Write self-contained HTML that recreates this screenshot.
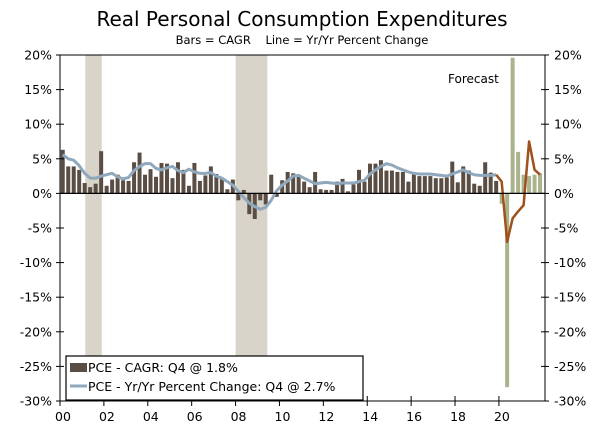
<!DOCTYPE html>
<html><head><meta charset="utf-8"><style>
body{margin:0;background:#fff;}
svg{display:block;font-family:"DejaVu Sans","Liberation Sans",sans-serif;}
</style></head><body>
<svg id="chart" width="600" height="431" viewBox="0 0 600 431">
<text x="302" y="26" text-anchor="middle" font-size="20" fill="#000">Real Personal Consumption Expenditures</text>
<text x="302" y="44" text-anchor="middle" font-size="11.5" fill="#000">Bars = CAGR&#160;&#160;&#160;&#160;Line = Yr/Yr Percent Change</text>
<g id="recessions"></g>
<g id="bars"></g>
<g id="lines"></g>
<g id="axes"></g>
<text x="448" y="83" font-size="12" fill="#000">Forecast</text>
<g>
<rect x="66" y="356" width="297" height="44" fill="#fff" stroke="#000" stroke-width="1.2"/>
<rect x="70" y="363" width="17" height="9" fill="#5a4e44"/>
<text x="88" y="372" font-size="12.5" fill="#000">PCE - CAGR: Q4 @ 1.8%</text>
<line x1="70" y1="386" x2="87" y2="386" stroke="#8fa8bc" stroke-width="3"/>
<text x="88" y="391" font-size="12.5" fill="#000">PCE - Yr/Yr Percent Change: Q4 @ 2.7%</text>
</g>
</svg>
<script>
const startYear = 2000;
const cagrHist = [6.3,3.9,3.9,3.4, 1.5,0.9,1.4,6.1, 1.1,2.0,2.7,1.9, 1.8,4.5,5.9,2.7, 3.5,2.4,4.4,4.3, 2.2,4.5,3.4,1.1, 4.4,1.8,2.6,3.9, 2.8,2.2,0.6,2.0, -1.0,0.5,-3.0,-3.7, -1.0,-1.6,2.7,-0.5, 1.9,3.1,2.9,2.5, 1.7,0.9,3.1,0.6, 0.5,0.5,1.7,2.1, 0.3,1.3,3.4,1.7, 4.3,4.3,4.8,3.3, 3.3,3.1,3.1,1.7, 3.0,2.5,2.5,2.5, 2.2,2.2,2.3,4.6, 1.6,3.9,3.3,1.4, 1.1,4.5,3.0,1.8];
const cagrForecast = [-1.5,-28.0,19.6,6.0,2.7,2.5,2.7,2.9];
const yoyHist = [5.6,5.0,4.8,4.0, 2.9,2.2,2.2,2.5, 2.7,2.9,2.4,2.1, 2.3,3.3,3.9,4.3, 4.3,3.6,3.4,3.7, 3.9,3.3,3.0,3.5, 3.1,2.9,2.9,3.0, 2.5,2.2,1.7,1.2, 0.3,-0.6,-1.4,-1.9, -2.3,-2.0,-1.0,0.4, 1.2,1.8,2.5,2.6, 2.2,1.8,1.4,1.5, 1.6,1.5,1.4,1.5, 1.5,1.5,1.7,1.9, 2.8,3.4,3.9,4.3, 4.1,3.7,3.4,3.1, 2.9,2.8,2.8,2.8, 2.7,2.6,2.5,2.8, 3.1,3.4,3.0,2.7, 2.6,2.6,2.6,2.7];
const yoyForecast = [2.7,1.7,-7.0,-3.6,-2.6,-1.7,7.5,3.4,2.7];
const recessions = [[2001.15,2001.9],[2008.0,2009.45]];
const yTicks = [20,15,10,5,0,-5,-10,-15,-20,-25,-30];
const xTickYears = [2000,2002,2004,2006,2008,2010,2012,2014,2016,2018,2020];
const xTickLabels = ["00","02","04","06","08","10","12","14","16","18","20"];

const L=60,R=545,T=55,B=401,yMax=20,yMin=-30,yrs=22.1;
const NS="http://www.w3.org/2000/svg";
function X(year){return L+(year-startYear)*(R-L)/yrs;}
function Y(v){return T+(yMax-v)*(B-T)/(yMax-yMin);}
function qx(i){return X(startYear+(i+0.5)/4);}
function mk(tag,attrs,parent){const e=document.createElementNS(NS,tag);for(const k in attrs)e.setAttribute(k,attrs[k]);parent.appendChild(e);return e;}

const gR=document.getElementById('recessions');
recessions.forEach(r=>{
  const e=mk('rect',{x:X(r[0]),y:T,width:X(r[1])-X(r[0]),height:B-T,fill:'#d9d4c9'},gR);
  
  
});
const gB=document.getElementById('bars');
const bw=4;
cagrHist.forEach((v,i)=>{
  const y0=Y(0),y1=Y(v);
  const e=mk('rect',{x:qx(i)-bw/2,y:Math.min(y0,y1),width:bw,height:Math.abs(y1-y0),fill:'#5a4e44'},gB);
  
  
});
cagrForecast.forEach((v,i)=>{
  const y0=Y(0),y1=Y(v);
  const e=mk('rect',{x:qx(cagrHist.length+i)-bw/2,y:Math.min(y0,y1),width:bw,height:Math.abs(y1-y0),fill:'#a9b38c'},gB);
  
  
});
const gA=document.getElementById('axes');
const zl=mk('line',{x1:L,x2:R,y1:Y(0),y2:Y(0),stroke:'#000','stroke-width':1.2},gA);


const gL=document.getElementById('lines');
const p1=mk('polyline',{points:yoyHist.map((v,i)=>qx(i)+','+Y(v)).join(' '),fill:'none',stroke:'#8fa8bc','stroke-width':3,'stroke-linejoin':'round'},gL);


const p2=mk('polyline',{points:yoyForecast.map((v,i)=>qx(yoyHist.length-1+i)+','+Y(v)).join(' '),fill:'none',stroke:'#a0501a','stroke-width':2.5,'stroke-linejoin':'round'},gL);



mk('line',{x1:L,x2:R,y1:T,y2:T,stroke:'#000','stroke-width':1},gA);
mk('line',{x1:L,x2:R,y1:B,y2:B,stroke:'#000','stroke-width':1},gA);
mk('line',{x1:L,x2:L,y1:T,y2:B,stroke:'#000','stroke-width':1},gA);
mk('line',{x1:R,x2:R,y1:T,y2:B,stroke:'#000','stroke-width':1},gA);
yTicks.forEach(v=>{
  const y=Y(v);
  mk('line',{x1:L-4,x2:L+4,y1:y,y2:y,stroke:'#000'},gA);
  mk('line',{x1:R-4,x2:R+4,y1:y,y2:y,stroke:'#000'},gA);
  const t1=mk('text',{x:L-8,y:y+4.5,'text-anchor':'end','font-size':12.5,fill:'#000'},gA);
  t1.textContent=v+'%';
  
  
  const t2=mk('text',{x:R+9,y:y+4.5,'text-anchor':'start','font-size':12.5,fill:'#000'},gA);
  t2.textContent=v+'%';
  
  
});
xTickYears.forEach((yr,i)=>{
  const x=X(yr);
  mk('line',{x1:x,x2:x,y1:B-5,y2:B+5,stroke:'#000'},gA);
  const t=mk('text',{x:x+3,y:B+20,'text-anchor':'middle','font-size':12.5,fill:'#000'},gA);
  t.textContent=xTickLabels[i];
  
  
});
</script>
</body></html>
